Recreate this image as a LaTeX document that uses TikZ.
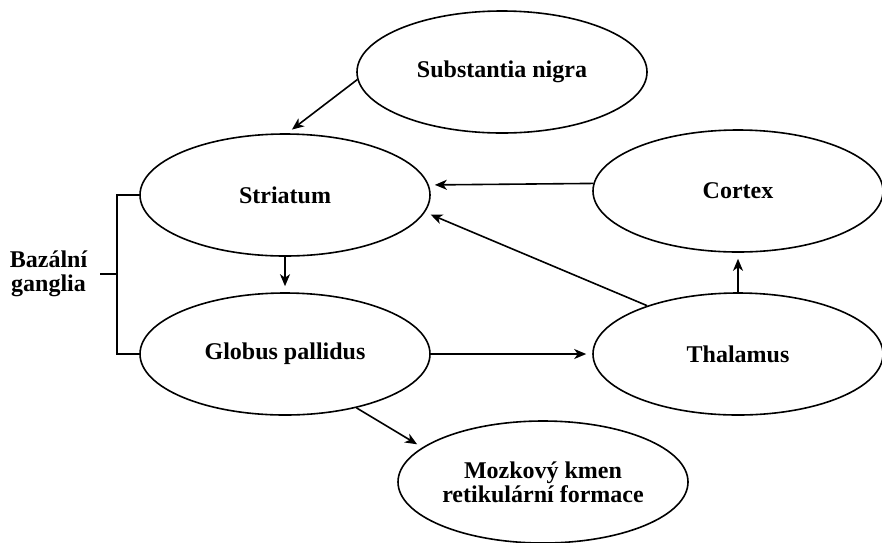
\documentclass[tikz,border=0pt]{standalone}
\usepackage{fontspec}
\setmainfont{Liberation Serif}
\usetikzlibrary{positioning,shapes.geometric,arrows.meta}

\begin{document}
\begin{tikzpicture}[x=1pt,y=-1pt,line width=1.6pt,
  area/.style={ellipse,draw,minimum width=290pt,minimum height=122pt,inner sep=0pt,
    align=center,font=\fontsize{24}{24}\selectfont\bfseries},
  tag/.style={align=center,font=\fontsize{24}{24}\selectfont\bfseries},
  -{Stealth[length=12pt,width=10pt,inset=3.5pt]},shorten >= 6pt
]
\useasboundingbox (0,0) rectangle (882,542);

% the areas
\node[area] (sn) at (502,72) {Substantia nigra};
\node[area] (stri) at (285,195) {Striatum};
\node[area] (gp) at (285,354) {Globus pallidus};
\node[area] (cortex) at (738,191) {Cortex};
\node[area] (thal) at (738,354) {Thalamus};
\node[area] (mk) at (543,482) {Mozkový kmen\\retikulární formace};

% the basal ganglia bracket
\node[tag,anchor=east,inner xsep=12pt] (bg) at (100,274) {Bazální\\ganglia};
\coordinate (br) at (117,274);
\draw[-,shorten >=0pt] (stri.west) -| (br) |- (gp.west);
\draw[-,shorten >=0pt] (br) -- (bg.east);

% the edges
\draw (sn.183) -- (stri.88);
\draw (cortex.177) -- (stri.4);
\draw (thal.152) -- (stri.-7);
\draw (stri.south) -- (gp.north);
\draw (thal.north) -- (cortex.south);
\draw (gp.east) -- (thal.west);
\draw (gp.-37) -- (mk.164);
\end{tikzpicture}
\end{document}
